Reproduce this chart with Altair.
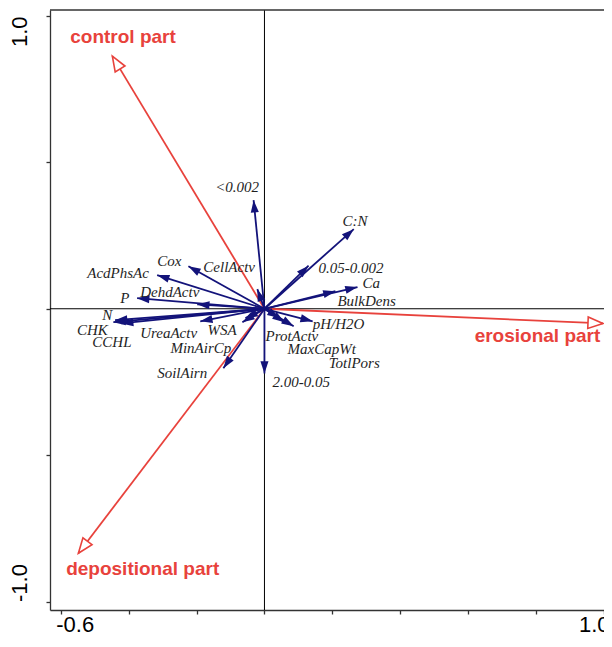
import math
import altair as alt
import pandas as pd

# ---- data ----
var_names = ["<0.002", "C:N", "0.05-0.002", "Ca", "BulkDens", "pH/H2O", "ProtActv",
             "MaxCapWt", "TotlPors", "2.00-0.05", "SoilAirn", "MinAirCp", "WSA",
             "UreaActv", "CCHL", "CHK", "N", "P", "DehdActv", "AcdPhsAc", "Cox", "CellActv"]
var_x = [-0.032, 0.263, 0.130, 0.274, 0.209, 0.142, 0.086, 0.059, 0.044, 0.000, -0.121,
         -0.056, -0.065, -0.189, -0.422, -0.445, -0.440, -0.375, -0.198, -0.316, -0.224, -0.021]
var_y = [0.371, 0.272, 0.147, 0.074, 0.060, -0.043, -0.060, -0.046, -0.032, -0.221, -0.203,
         -0.032, -0.046, -0.043, -0.050, -0.046, -0.039, 0.036, 0.015, 0.115, 0.145, 0.067]
var_label_x = [-0.145, 0.230, 0.159, 0.289, 0.215, 0.142, 0.003, 0.068, 0.189, 0.024, -0.316,
               -0.277, -0.168, -0.366, -0.507, -0.552, -0.478, -0.425, -0.366, -0.522, -0.316, -0.180]
var_label_y = [0.416, 0.300, 0.139, 0.088, 0.026, -0.052, -0.093, -0.138, -0.185, -0.250, -0.220,
               -0.134, -0.073, -0.083, -0.114, -0.073, -0.022, 0.037, 0.057, 0.122, 0.163, 0.142]

part_names = ["control part", "erosional part", "depositional part"]
part_x = [-0.448, 0.997, -0.548]
part_y = [0.863, -0.050, -0.835]
part_label_x = [-0.572, 0.619, -0.584]
part_label_y = [0.928, -0.093, -0.889]

x_ticks = [-0.6, -0.4, -0.2, 0.0, 0.2, 0.4, 0.6, 0.8, 1.0]
y_ticks = [-1.0, -0.5, 0.0, 0.5, 1.0]
x_domain = [-0.6316, 1.0]
y_domain = [-1.029, 1.0205]

W, H = 554, 600
NAVY = "#13137a"
RED = "#e8423c"
AX = "#333333"

sx = W / (x_domain[1] - x_domain[0])
sy = H / (y_domain[1] - y_domain[0])


def head_angle(x, y):
    return (math.degrees(math.atan2(x * sx, y * sy)) + 360.0) % 360.0


vars_df = pd.DataFrame({
    "name": var_names, "x": var_x, "y": var_y,
    "lx": var_label_x, "ly": var_label_y,
    "x0": [0.0] * len(var_names), "y0": [0.0] * len(var_names),
    "angle": [head_angle(a, b) for a, b in zip(var_x, var_y)],
})
parts_df = pd.DataFrame({
    "name": part_names, "x": part_x, "y": part_y,
    "lx": part_label_x, "ly": part_label_y,
    "x0": [0.0] * 3, "y0": [0.0] * 3,
    "angle": [head_angle(a, b) for a, b in zip(part_x, part_y)],
})
zero_df = pd.DataFrame({"v": [0.0]})

xs = alt.Scale(domain=x_domain, nice=False, zero=False)
ys = alt.Scale(domain=y_domain, nice=False, zero=False)

x_axis = alt.Axis(
    values=x_ticks, title=None, grid=False, tickSize=4, tickWidth=1.3, tickColor=AX,
    domainColor=AX, domainWidth=1.3, labelFont="Liberation Sans", labelFontSize=22,
    labelColor="black", labelPadding=0, labelFlush=15, labelFlushOffset=5,
    labelOverlap=False, labelBound=False,
    labelExpr="abs(datum.value + 0.6) < 1e-6 ? '-0.6' : (abs(datum.value - 1) < 1e-6 ? '1.0' : '')",
)
y_axis = alt.Axis(
    values=y_ticks, title=None, grid=False, tickSize=4, tickWidth=1.3, tickColor=AX,
    domainColor=AX, domainWidth=1.3, labelFont="Liberation Sans", labelFontSize=22,
    labelColor="black", labelAngle=270, labelPadding=20, labelBaseline="alphabetic",
    labelAlign={"condition": {"test": "datum.value > 0", "value": "right"}, "value": "left"},
    labelFlush=15, labelFlushOffset=5,
    labelOverlap=False,
    labelExpr="datum.value > 0.99 ? '1.0' : (datum.value < -0.99 ? '-1.0' : '')",
)


def X(f):
    return alt.X(f, type="quantitative", scale=xs, axis=x_axis)


def Y(f):
    return alt.Y(f, type="quantitative", scale=ys, axis=y_axis)


vline = alt.Chart(zero_df).mark_rule(color="black", strokeWidth=1).encode(x=X("v"))
hline = alt.Chart(zero_df).mark_rule(color="black", strokeWidth=1).encode(y=Y("v"))
top_line = alt.Chart(zero_df).mark_rule(color=AX, strokeWidth=1.3).encode(
    x=alt.value(0), x2=alt.value(W), y=alt.value(0))

red_lines = alt.Chart(parts_df).mark_rule(color=RED, strokeWidth=1.8).encode(
    x=X("x0"), y=Y("y0"), x2="x:Q", y2="y:Q")
blue_lines = alt.Chart(vars_df).mark_rule(color=NAVY, strokeWidth=1.8).encode(
    x=X("x0"), y=Y("y0"), x2="x:Q", y2="y:Q")

blue_heads = alt.Chart(vars_df).mark_point(
    shape="M0,0L-0.33,1L0.33,1Z", filled=True, fill=NAVY, strokeWidth=0,
    size=600, opacity=1).encode(
    x=X("x"), y=Y("y"), angle=alt.Angle("angle:Q", scale=None))
red_heads = alt.Chart(parts_df).mark_point(
    shape="M0,0L-0.38,1L0.38,1Z", filled=True, fill="white", stroke=RED,
    strokeWidth=1.6, size=900, opacity=1).encode(
    x=X("x"), y=Y("y"), angle=alt.Angle("angle:Q", scale=None))

var_text = alt.Chart(vars_df).mark_text(
    align="left", baseline="middle", font="Liberation Serif", fontStyle="italic",
    fontSize=15, color="#1e1e1e").encode(x=X("lx"), y=Y("ly"), text="name:N")
part_text = alt.Chart(parts_df).mark_text(
    align="left", baseline="middle", font="Liberation Sans", fontWeight="bold",
    fontSize=19, color=RED).encode(x=X("lx"), y=Y("ly"), text="name:N")

chart = alt.layer(
    vline, hline, top_line, red_lines, blue_lines, blue_heads, red_heads, var_text, part_text
).properties(
    width=W, height=H,
    autosize=alt.AutoSizeParams(type="none"),
    padding={"left": 42, "top": 2, "right": 0, "bottom": 23},
    background="white",
).configure_view(strokeWidth=0)

chart.save("out.html", embed_options={"renderer": "svg", "actions": False})
